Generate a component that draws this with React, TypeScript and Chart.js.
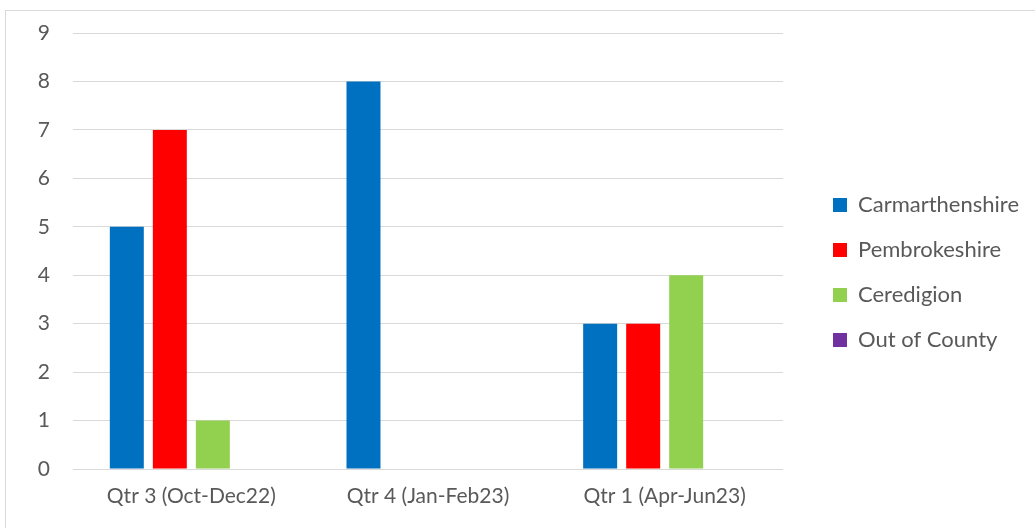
import React, { useEffect, useRef } from "react";
import { Chart, registerables } from "chart.js";

Chart.register(...registerables);

const categories = ["Qtr 3 (Oct-Dec22)", "Qtr 4 (Jan-Feb23)", "Qtr 1 (Apr-Jun23)"];
const carmarthenshire = [5, 8, 3];
const pembrokeshire = [7, 0, 3];
const ceredigion = [1, 0, 4];
const outOfCounty = [0, 0, 0];
const yTicks = [0, 1, 2, 3, 4, 5, 6, 7, 8, 9];

const FONT = "Lato";
const TEXT = "#595959";
const GRID = "#d9d9d9";

export default function App() {
  const ref = useRef<HTMLCanvasElement | null>(null);

  useEffect(() => {
    const canvas = ref.current;
    if (!canvas) return;
    const chart = new Chart(canvas, {
      type: "bar",
      data: {
        labels: categories,
        datasets: [
          { label: "Carmarthenshire", data: carmarthenshire, backgroundColor: "#0070C0", borderWidth: 0 },
          { label: "Pembrokeshire", data: pembrokeshire, backgroundColor: "#FF0000", borderWidth: 0 },
          { label: "Ceredigion", data: ceredigion, backgroundColor: "#92D050", borderWidth: 0 },
          { label: "Out of County", data: outOfCounty, backgroundColor: "#7030A0", borderWidth: 0 },
        ],
      },
      options: {
        responsive: false,
        animation: false,
        layout: { padding: { top: 33, bottom: 16, left: 0, right: 6 } },
        datasets: {
          bar: { categoryPercentage: 0.727, barPercentage: 0.79 },
        },
        plugins: {
          legend: {
            position: "right",
            align: "center",
            maxWidth: 400,
            labels: {
              boxWidth: 14,
              boxHeight: 14,
              padding: 23,
              color: TEXT,
              font: { family: FONT, size: 22 },
            },
          },
          tooltip: { enabled: false },
        },
        scales: {
          x: {
            grid: { display: false, drawTicks: false },
            border: { display: false },
            ticks: { color: TEXT, font: { family: FONT, size: 21 }, padding: 15, maxRotation: 0 },
            afterFit: (s: any) => {
              s.height = 43;
            },
          },
          y: {
            min: 0,
            max: 9,
            afterBuildTicks: (s: any) => {
              s.ticks = yTicks.map((v) => ({ value: v }));
            },
            grid: { color: GRID, lineWidth: 1, drawTicks: false },
            border: { display: false },
            ticks: { color: TEXT, font: { family: FONT, size: 21 }, padding: 23 },
            afterFit: (s: any) => {
              s.width = 73;
              s.paddingTop = 12;
              s.paddingBottom = 12;
            },
          },
          spacer: {
            type: "linear",
            position: "right",
            display: true,
            grid: { display: false, drawTicks: false },
            border: { display: false },
            ticks: { display: false },
            afterFit: (s: any) => {
              s.width = 27;
            },
          },
        },
      },
    });
    return () => chart.destroy();
  }, []);

  return (
    <div style={{ position: "fixed", left: 0, top: 0, width: 1035, height: 528, background: "#fff", overflow: "hidden" }}>
      <div
        style={{
          position: "absolute",
          left: 5,
          top: 10,
          width: 1060,
          height: 560,
          border: "1px solid #d9d9d9",
          boxSizing: "border-box",
        }}
      />
      <canvas ref={ref} width={1035} height={528} style={{ position: "absolute", left: 0, top: 0 }} />
    </div>
  );
}
